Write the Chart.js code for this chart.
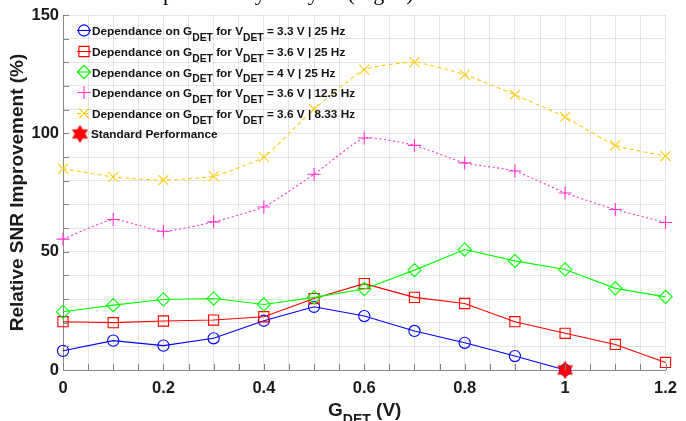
<!DOCTYPE html>
<html>
<head>
<meta charset="utf-8">
<script src="https://cdn.jsdelivr.net/npm/chart.js@4/dist/chart.umd.min.js"></script>
<style>
  html, body { margin: 0; padding: 0; background: #fff; overflow: hidden; }
  #wrap { width: 686px; height: 421px; position: relative; }
</style>
</head>
<body>
<div id="wrap"><canvas id="c" width="686" height="421"></canvas></div>
<script>
// ---- data ----
const gdet = [0, 0.1, 0.2, 0.3, 0.4, 0.5, 0.6, 0.7, 0.8, 0.9, 1.0, 1.1, 1.2];
const v33_25Hz  = [8.1, 12.4, 10.3, 13.4, 20.8, 26.7, 22.8, 16.5, 11.5, 5.9, 0];
const v36_25Hz  = [20.4, 20.0, 20.7, 21.1, 22.5, 30.2, 36.5, 30.7, 28.1, 20.4, 15.5, 10.8, 3.2];
const v4_25Hz   = [24.6, 27.4, 29.8, 30.2, 27.7, 30.7, 34.2, 42.2, 50.9, 46.1, 42.5, 34.5, 30.9];
const v36_12Hz  = [55.3, 63.6, 58.6, 62.6, 68.9, 82.7, 98.0, 94.9, 87.5, 84.1, 74.8, 67.8, 62.3];
const v36_8Hz   = [85.1, 81.6, 80.2, 81.9, 90.0, 110.2, 126.9, 130.1, 124.8, 116.3, 106.9, 94.9, 90.4];
const standardX = [1.0];
const standardY = [0];

const xTickLabels = ['0', '0.2', '0.4', '0.6', '0.8', '1', '1.2'];
const yTickLabels = ['0', '50', '100', '150'];

// legend labels: segments alternate normal / subscript
const legendLabels = [
  ['Dependance on G', 'DET', ' for V', 'DET', ' = 3.3 V | 25 Hz'],
  ['Dependance on G', 'DET', ' for V', 'DET', ' = 3.6 V | 25 Hz'],
  ['Dependance on G', 'DET', ' for V', 'DET', ' = 4 V | 25 Hz'],
  ['Dependance on G', 'DET', ' for V', 'DET', ' = 3.6 V | 12.5 Hz'],
  ['Dependance on G', 'DET', ' for V', 'DET', ' = 3.6 V | 8.33 Hz'],
  ['Standard Performance']
];
const yTitle = 'Relative SNR Improvement (%)';
const xTitle = ['G', 'DET', ' (V)'];
const topFragment = ['confirmed in a ', 'preliminary analysis (Fig. 2).'];

// ---- helpers ----
function pts(xs, ys) { return ys.map((y, i) => ({ x: xs[i], y: y })); }

function makeStar(r, color) {
  const s = Math.ceil(r * 2 + 2);
  const cv = document.createElement('canvas');
  cv.width = s; cv.height = s;
  const c = cv.getContext('2d');
  const cx = s / 2, cy = s / 2, ri = r / Math.sqrt(3);
  c.beginPath();
  for (let i = 0; i < 12; i++) {
    const a = -Math.PI / 2 + i * Math.PI / 6;
    const rr = i % 2 === 0 ? r : ri;
    const px = cx + rr * Math.cos(a), py = cy + rr * Math.sin(a);
    if (i === 0) c.moveTo(px, py); else c.lineTo(px, py);
  }
  c.closePath();
  c.fillStyle = color; c.fill();
  c.strokeStyle = '#e00000'; c.lineWidth = 0.8; c.stroke();
  return cv;
}
const starImg = makeStar(8.5, '#ff0000');

const TICK_FONT = { family: '"Liberation Sans", Arial, sans-serif', size: 16.5, weight: 'bold' };
const fam = '"Liberation Sans", Arial, sans-serif';

function nearLabel(v, step, labels) {
  const k = v / step;
  if (Math.abs(k - Math.round(k)) < 1e-6) {
    const idx = Math.round(k);
    return labels[idx] !== undefined ? labels[idx] : '';
  }
  return '';
}

const datasets = [
  { data: pts(gdet, v33_25Hz), borderColor: '#0000ff', pointStyle: 'circle', pointRadius: 5.6, order: 5 },
  { data: pts(gdet, v36_25Hz), borderColor: '#ff0000', pointStyle: 'rect', pointRadius: 7.2, order: 4 },
  { data: pts(gdet, v4_25Hz), borderColor: '#00ff00', pointStyle: 'rectRot', pointRadius: 6.6, order: 3 },
  { data: pts(gdet, v36_12Hz), borderColor: '#ff33cc', pointStyle: 'cross', pointRadius: 6.5, borderDash: [2, 2.5], tension: 0.15, order: 2 },
  { data: pts(gdet, v36_8Hz), borderColor: '#ffcc11', pointStyle: 'crossRot', pointRadius: 7, borderDash: [4, 3], tension: 0.15, order: 1 },
].map(d => Object.assign({
  borderWidth: 1.1,
  pointBorderWidth: 1.1,
  pointBackgroundColor: 'rgba(0,0,0,0)',
  pointBorderColor: d.borderColor,
  showLine: true,
  fill: false,
  clip: false,
  tension: 0
}, d));
datasets.push({
  data: pts(standardX, standardY),
  pointStyle: starImg,
  pointRadius: 9,
  showLine: false,
  clip: false,
  order: 0
});

const overlay = {
  id: 'overlay',
  afterDraw(chart) {
    const ctx = chart.ctx;
    const xs = chart.scales.x, ys = chart.scales.y;
    ctx.save();
    // inward tick marks
    ctx.strokeStyle = '#808080';
    ctx.lineWidth = 1;
    ctx.beginPath();
    ys.ticks.forEach(t => {
      const py = Math.round(ys.getPixelForValue(t.value)) + 0.5;
      ctx.moveTo(xs.left, py); ctx.lineTo(xs.left + 6, py);
    });
    xs.ticks.forEach(t => {
      const px = Math.round(xs.getPixelForValue(t.value)) + 0.5;
      ctx.moveTo(px, ys.bottom); ctx.lineTo(px, ys.bottom - 6);
    });
    ctx.stroke();

    // y title
    ctx.fillStyle = '#1a1a1a';
    ctx.font = 'bold 19px ' + fam;
    ctx.textAlign = 'center';
    ctx.textBaseline = 'middle';
    ctx.translate(18, (ys.top + ys.bottom) / 2);
    ctx.rotate(-Math.PI / 2);
    ctx.fillText(yTitle, 0, 0);
    ctx.setTransform(1, 0, 0, 1, 0, 0);

    // x title with subscript
    ctx.textAlign = 'left';
    ctx.textBaseline = 'alphabetic';
    let x0 = 328;
    ctx.font = 'bold 19px ' + fam;
    ctx.fillText(xTitle[0], x0, 416);
    x0 += ctx.measureText(xTitle[0]).width;
    ctx.font = 'bold 14px ' + fam;
    ctx.fillText(xTitle[1], x0, 424);
    x0 += ctx.measureText(xTitle[1]).width;
    ctx.font = 'bold 19px ' + fam;
    ctx.fillText(xTitle[2], x0, 416);

    // legend
    const rowY = [35, 56, 76.5, 97, 118, 138];
    chart.data.datasets.forEach((ds, i) => {
      const by = rowY[i];
      const my = by - 4.5;
      if (i < 5) {
        ctx.save();
        ctx.strokeStyle = ds.borderColor;
        ctx.fillStyle = 'rgba(0,0,0,0)';
        ctx.lineWidth = 1.1;
        ctx.setLineDash(ds.borderDash || []);
        ctx.beginPath(); ctx.moveTo(77, my); ctx.lineTo(91, my); ctx.stroke();
        ctx.setLineDash([]);
        Chart.helpers.drawPoint(ctx, { pointStyle: ds.pointStyle, radius: ds.pointRadius, borderWidth: 1.1 }, 84, my);
        ctx.restore();
      } else {
        ctx.drawImage(starImg, 80 - starImg.width / 2, 134 - starImg.height / 2);
      }
      let tx = i < 5 ? 92 : 91;
      ctx.fillStyle = '#111';
      legendLabels[i].forEach((seg, k) => {
        const sub = k % 2 === 1;
        ctx.font = 'bold ' + (sub ? 10.3 : 11.8) + 'px ' + fam;
        ctx.fillText(seg, tx, by + (sub ? 5.5 : 0));
        tx += ctx.measureText(seg).width;
      });
    });

    // clipped document text fragment at top
    ctx.fillStyle = '#000';
    ctx.font = '22px "Liberation Serif", "Times New Roman", serif';
    ctx.textAlign = 'right';
    ctx.fillText(topFragment[0], 163, 0);
    ctx.textAlign = 'left';
    ctx.fillText(topFragment[1], 163, 0);
    ctx.restore();
  }
};

const gridColor = 'rgba(0,0,0,0.10)';

new Chart(document.getElementById('c'), {
  type: 'scatter',
  data: { datasets: datasets },
  options: {
    responsive: false,
    animation: false,
    events: [],
    layout: { padding: { left: 0, right: 16, top: 15, bottom: 0 } },
    plugins: { legend: { display: false }, tooltip: { enabled: false } },
    scales: {
      x: {
        type: 'linear', min: 0, max: 1.2,
        afterFit(s) { s.height = 51; },
        afterBuildTicks(s) {
          const t = [];
          for (let k = 0; k <= 24; k++) t.push({ value: k * 0.05 });
          s.ticks = t;
        },
        ticks: {
          autoSkip: false, maxRotation: 0, minRotation: 0,
          padding: 9,
          color: '#1a1a1a',
          font: TICK_FONT,
          callback: (v) => nearLabel(v, 0.2, xTickLabels)
        },
        grid: { color: gridColor, drawTicks: false, lineWidth: 1 },
        border: { display: true, color: '#8a8a8a', dash: [], width: 1 }
      },
      y: {
        type: 'linear', min: 0, max: 150,
        afterFit(s) { s.width = 63; },
        afterBuildTicks(s) {
          const t = [];
          for (let k = 0; k <= 15; k++) t.push({ value: k * 10 });
          s.ticks = t;
        },
        ticks: {
          autoSkip: false,
          padding: 4,
          color: '#1a1a1a',
          font: TICK_FONT,
          callback: (v) => nearLabel(v, 50, yTickLabels)
        },
        grid: { color: gridColor, drawTicks: false, lineWidth: 1 },
        border: { display: true, color: '#8a8a8a', width: 1 }
      }
    }
  },
  plugins: [overlay]
});
</script>
</body>
</html>
